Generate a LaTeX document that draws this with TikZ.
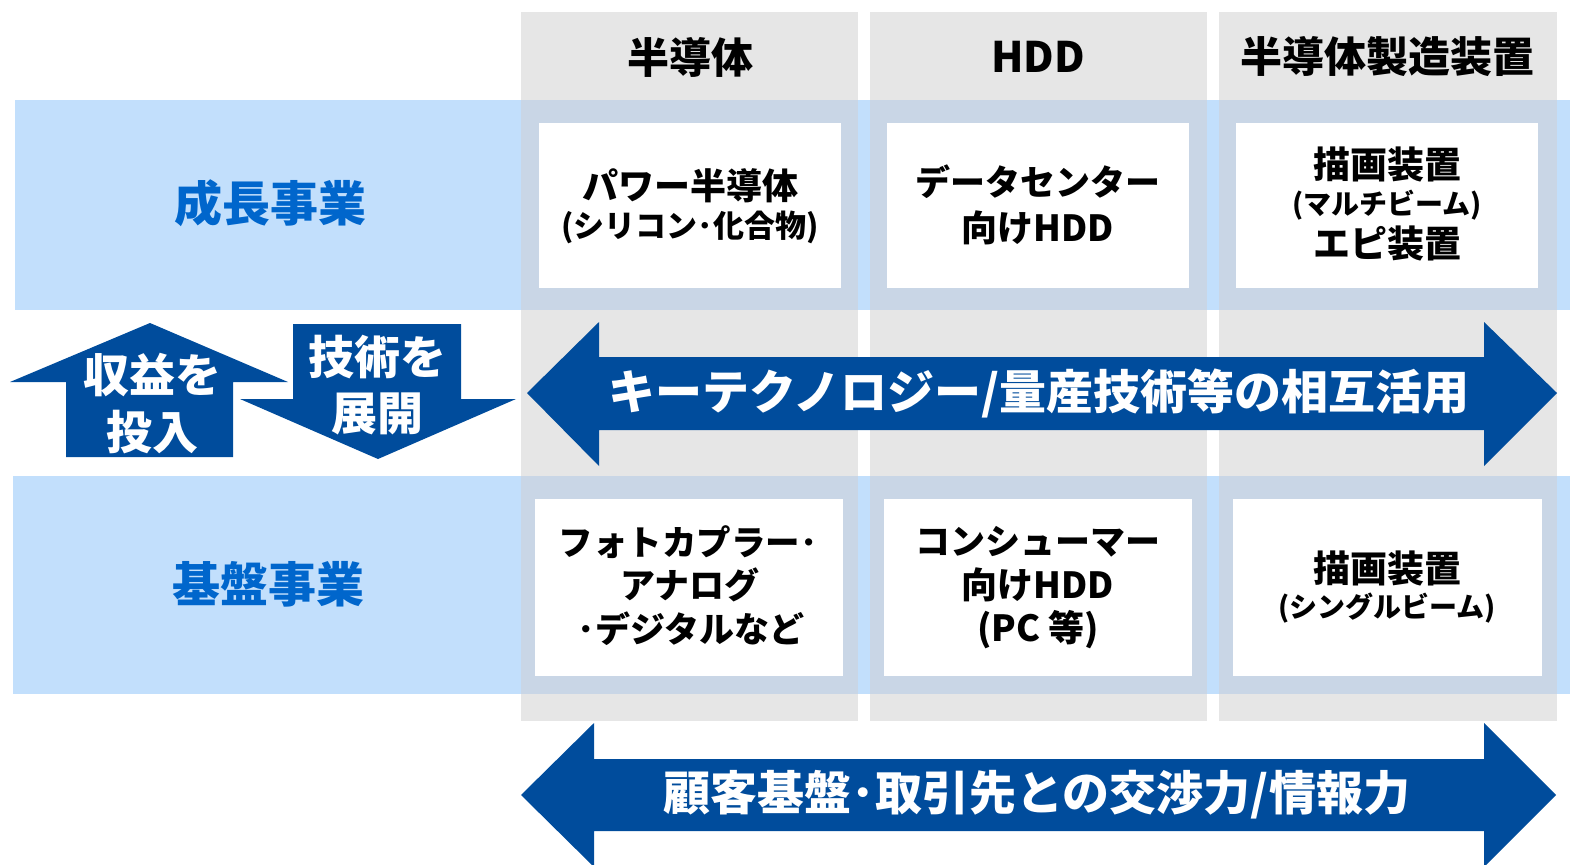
\documentclass[tikz,border=0pt]{standalone}
\usepackage{fontspec}
\setmainfont{Noto Sans CJK JP}
\definecolor{graycol}{HTML}{E6E6E6}
\definecolor{bandblue}{HTML}{C2DFFC}
\definecolor{overlap}{HTML}{C9D6E6}
\definecolor{arrowblue}{HTML}{004C9C}
\definecolor{labelblue}{HTML}{0066CC}
\tikzset{
  txt/.style={inner sep=0pt, text=black, font=\bfseries\fontsize{#1}{#1}\selectfont},
  wtxt/.style={inner sep=0pt, text=white, font=\bfseries\fontsize{#1}{#1}\selectfont},
  btxt/.style={inner sep=0pt, text=labelblue, font=\bfseries\fontsize{#1}{#1}\selectfont},
  bigarrow/.style={fill=arrowblue, draw=none},
}
\begin{document}
\begin{tikzpicture}[x=1pt,y=-1pt]
\useasboundingbox (0,0) rectangle (1570,864);
% gray columns
\foreach \a/\b in {521/858,870/1207,1219/1557}{
  \fill[graycol] (\a,12) rectangle (\b,721);
}
% blue bands
\fill[bandblue] (15,100) rectangle (1570,310);
\fill[bandblue] (13,476) rectangle (1570,694);
% overlaps
\foreach \a/\b in {521/858,870/1207,1219/1557}{
  \fill[overlap] (\a,100) rectangle (\b,310);
  \fill[overlap] (\a,476) rectangle (\b,694);
}
% white boxes
\foreach \a/\b in {539/841,887/1189,1236/1538}{
  \fill[white] (\a,123) rectangle (\b,288);
}
\foreach \a/\b in {535/843,884/1192,1233/1542}{
  \fill[white] (\a,499) rectangle (\b,676);
}
% headers
\node[txt=42] (h1) at (690,57) {半導体};
\node[txt=42] (h2) at (1038,57) {HDD};
\node[txt=42] (h3) at (1387,57) {半導体製造装置};
% row labels
\node[btxt=48] (r1) at (270,203) {成長事業};
\node[btxt=48] (r2) at (268,584) {基盤事業};
% row 1 boxes
\node[txt=36] (a1) at (690,186) {パワー半導体};
\node[txt=31] (a2) at (690,227) {(シリコン･化合物)};
\node[txt=35] (b1) at (1038,182) {データセンター};
\node[txt=36] (b2) at (1038,228) {向けHDD};
\node[txt=37] (c1) at (1387,164) {描画装置};
\node[txt=28] (c2) at (1387,205) {(マルチビーム)};
\node[txt=37] (c3) at (1387,243) {エピ装置};
% row 2 boxes
\node[txt=34.5] (d1) at (688,542) {フォトカプラー･};
\node[txt=35] (d2) at (690,585) {アナログ};
\node[txt=35] (d3) at (691,629) {･デジタルなど};
\node[txt=35] (e1) at (1038,542) {コンシューマー};
\node[txt=36] (e2) at (1038,585) {向けHDD};
\node[txt=36] (e3) at (1038,630) {(PC 等)};
\node[txt=37] (f1) at (1387,568) {描画装置};
\node[txt=28] (f2) at (1387,608) {(シングルビーム)};
% left arrows
\fill[bigarrow] (150,323) -- (288,382) -- (233,382) -- (233,457) -- (66,457) -- (66,382) -- (10,382) -- cycle;
\fill[bigarrow] (293,324) -- (461,324) -- (461,399) -- (516,399) -- (378,459) -- (240,399) -- (293,399) -- cycle;
\node[wtxt=46] (u1) at (152,375) {収益を};
\node[wtxt=46] (u2) at (152,432) {投入};
\node[wtxt=46] (v1) at (377,357) {技術を};
\node[wtxt=46] (v2) at (377,414) {展開};
% middle arrow
\fill[bigarrow] (527,393) -- (599,322) -- (599,357) -- (1484,357) -- (1484,322) -- (1557,393) -- (1484,466) -- (1484,430) -- (599,430) -- (599,466) -- cycle;
\node[wtxt=47] (m) at (1039,393) {キーテクノロジー/量産技術等の相互活用};
% bottom arrow
\fill[bigarrow] (521,795) -- (594,723) -- (594,759) -- (1484,759) -- (1484,723) -- (1556,795) -- (1484,867) -- (1484,831) -- (594,831) -- (594,867) -- cycle;
\node[wtxt=47] (n) at (1037,795) {顧客基盤･取引先との交渉力/情報力};
\end{tikzpicture}
\end{document}
